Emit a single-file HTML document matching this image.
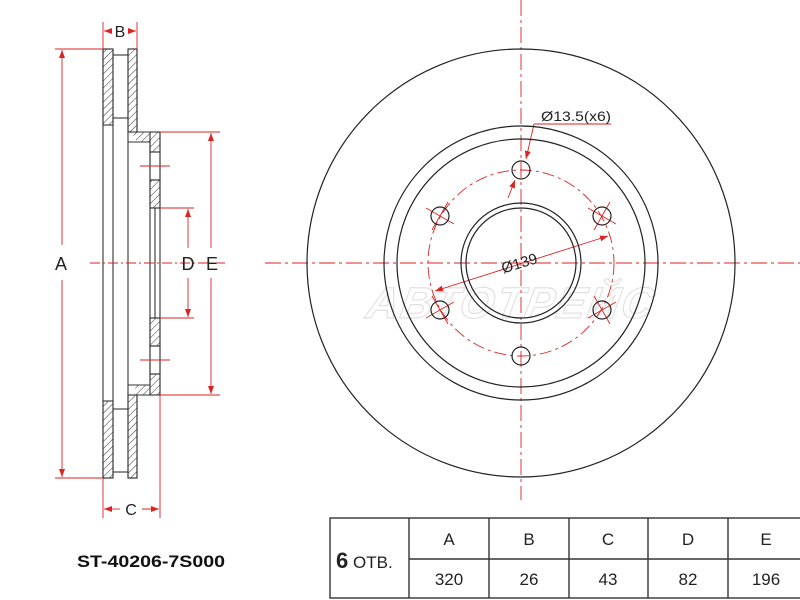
<!DOCTYPE html>
<html><head><meta charset="utf-8"><style>
html,body{margin:0;padding:0;background:#fff;width:800px;height:600px;overflow:hidden}
svg{display:block}
text{font-family:"Liberation Sans",Arial,sans-serif}
</style></head><body>
<svg width="800" height="600" viewBox="0 0 800 600" xmlns="http://www.w3.org/2000/svg">
<defs>
<pattern id="h" width="5" height="5" patternUnits="userSpaceOnUse" patternTransform="rotate(45)">
<line x1="0" y1="0" x2="0" y2="5" stroke="#333" stroke-width="1"/>
</pattern>
<marker id="a" markerWidth="8" markerHeight="6" refX="8" refY="3" orient="auto-start-reverse" markerUnits="userSpaceOnUse">
<path d="M0,0 L8,3 L0,6 z" fill="#d22"/>
</marker>
<g id="x">
<line x1="-14" y1="-8" x2="14" y2="8"/><line x1="-8" y1="14" x2="8" y2="-14"/>
</g>
</defs>

<!-- watermark -->
<text x="510" y="318" font-size="44" font-weight="bold" font-style="italic" fill="none" stroke="#e2e2e2" stroke-width="1.2" text-anchor="middle" transform="skewX(-10) translate(55,0)" letter-spacing="2">АВТОТРЕЙС</text>

<!-- SIDE VIEW -->
<g stroke="#333" stroke-width="1.1" fill="none">
<rect x="103" y="49" width="10" height="76" fill="url(#h)"/>
<rect x="103" y="401" width="10" height="77" fill="url(#h)"/>
<rect x="128" y="49" width="9" height="83" fill="url(#h)"/>
<rect x="128" y="395" width="9" height="83" fill="url(#h)"/>
<path d="M128,132 L150,132 L150,142 L137,142 L128,125 Z" fill="url(#h)" stroke="none"/>
<path d="M128,395 L150,395 L150,385 L137,385 L128,402 Z" fill="url(#h)" stroke="none"/>
<rect x="150" y="132" width="10" height="20" fill="url(#h)"/>
<rect x="150" y="180" width="10" height="28" fill="url(#h)"/>
<rect x="150" y="318" width="10" height="28" fill="url(#h)"/>
<rect x="150" y="374" width="10" height="21" fill="url(#h)"/>
<line x1="103" y1="49" x2="103" y2="478"/>
<line x1="113" y1="49" x2="113" y2="478"/>
<line x1="128" y1="49" x2="128" y2="478"/>
<line x1="103" y1="49" x2="113" y2="49"/>
<line x1="103" y1="478" x2="113" y2="478"/>
<line x1="128" y1="49" x2="137" y2="49"/>
<line x1="128" y1="478" x2="137" y2="478"/>
<line x1="113" y1="55" x2="128" y2="55"/>
<line x1="113" y1="118" x2="128" y2="118"/>
<line x1="113" y1="409" x2="128" y2="409"/>
<line x1="113" y1="472" x2="128" y2="472"/>
<path d="M137,49 L137,132 L160,132 L160,395 L137,395 L137,478"/>
<path d="M128,142 L150,142 L150,385 L128,385"/>
<line x1="150" y1="208" x2="160" y2="208"/>
<line x1="150" y1="318" x2="160" y2="318"/>
<line x1="155" y1="208" x2="155" y2="318"/>
<rect x="150" y="152" width="10" height="28"/>
<rect x="150" y="346" width="10" height="28"/>
</g>
<!-- side dims -->
<g stroke="#d22" stroke-width="0.9" fill="none">
<line x1="90" y1="263" x2="225" y2="263" stroke-dasharray="10,3,2,3"/>
<line x1="140" y1="166" x2="170" y2="166"/>
<line x1="140" y1="360" x2="170" y2="360"/>
<line x1="103" y1="22" x2="103" y2="49"/>
<line x1="137" y1="22" x2="137" y2="49"/>
<line x1="104" y1="31" x2="112" y2="31" marker-start="url(#a)"/>
<line x1="128" y1="31" x2="136" y2="31" marker-end="url(#a)"/>
<line x1="55" y1="49" x2="103" y2="49"/>
<line x1="55" y1="478" x2="103" y2="478"/>
<line x1="62" y1="50" x2="62" y2="245" marker-start="url(#a)"/>
<line x1="62" y1="280" x2="62" y2="477" marker-end="url(#a)"/>
<line x1="103" y1="478" x2="103" y2="518"/>
<line x1="160" y1="395" x2="160" y2="518"/>
<line x1="104" y1="509" x2="120" y2="509" marker-start="url(#a)"/>
<line x1="142" y1="509" x2="159" y2="509" marker-end="url(#a)"/>
<line x1="160" y1="132" x2="220" y2="132"/>
<line x1="160" y1="395" x2="220" y2="395"/>
<line x1="160" y1="208" x2="194" y2="208"/>
<line x1="160" y1="318" x2="194" y2="318"/>
<line x1="188" y1="209" x2="188" y2="248" marker-start="url(#a)"/>
<line x1="188" y1="278" x2="188" y2="317" marker-end="url(#a)"/>
<line x1="211" y1="133" x2="211" y2="248" marker-start="url(#a)"/>
<line x1="211" y1="278" x2="211" y2="394" marker-end="url(#a)"/>
</g>
<g font-size="18" fill="#222" text-anchor="middle">
<text x="120" y="37" font-size="16">B</text>
<text x="61" y="270">A</text>
<text x="131" y="515" font-size="16">C</text>
<text x="188" y="270">D</text>
<text x="212" y="270">E</text>
</g>

<!-- FRONT VIEW -->
<g stroke="#d22" stroke-width="0.9" fill="none">
<line x1="265" y1="263" x2="800" y2="263" stroke-dasharray="16,4,3,4"/>
<line x1="521" y1="0" x2="521" y2="500" stroke-dasharray="16,4,3,4"/>
<circle cx="521" cy="263" r="93" stroke-dasharray="12,4,3,4"/>
<line x1="435" y1="291" x2="608" y2="236" marker-start="url(#a)" marker-end="url(#a)"/>
<line x1="508" y1="198" x2="515" y2="180" marker-end="url(#a)"/>
<line x1="534" y1="124" x2="526" y2="159" marker-end="url(#a)"/>
<line x1="534" y1="124" x2="611" y2="124"/>
<use href="#x" transform="translate(440,216)"/>
<use href="#x" transform="translate(602,216)"/>
<use href="#x" transform="translate(440,310) scale(1,-1)"/>
<use href="#x" transform="translate(602,310) scale(1,-1)"/>
</g>
<g stroke="#222" stroke-width="1.2" fill="none">
<circle cx="521" cy="263" r="214"/>
<circle cx="521" cy="263" r="137"/>
<circle cx="521" cy="263" r="124"/>
<circle cx="521" cy="263" r="60"/>
<circle cx="521" cy="263" r="55"/>
<circle cx="521" cy="170" r="9"/>
<circle cx="521" cy="356" r="9"/>
<circle cx="440" cy="216" r="9"/>
<circle cx="602" cy="216" r="9"/>
<circle cx="440" cy="310" r="9"/>
<circle cx="602" cy="310" r="9"/>
</g>
<text x="541" y="121" font-size="14" fill="#222" textLength="70" lengthAdjust="spacingAndGlyphs">Ø13.5(x6)</text>
<text x="500" y="268" font-size="15" fill="#222" transform="rotate(-17 520 260)">Ø139</text>

<!-- TABLE -->
<g stroke="#333" stroke-width="1.4" fill="none">
<rect x="330" y="518" width="475" height="80"/>
<line x1="409" y1="559" x2="800" y2="559"/>
<line x1="409" y1="518" x2="409" y2="598"/>
<line x1="489" y1="518" x2="489" y2="598"/>
<line x1="569" y1="518" x2="569" y2="598"/>
<line x1="648" y1="518" x2="648" y2="598"/>
<line x1="728" y1="518" x2="728" y2="598"/>
</g>
<g font-size="17" fill="#222" text-anchor="middle">
<text x="449" y="545">A</text><text x="529" y="545">B</text><text x="608" y="545">C</text><text x="688" y="545">D</text><text x="766" y="545">E</text>
<text x="449" y="585">320</text><text x="529" y="585">26</text><text x="608" y="585">43</text><text x="688" y="585">82</text><text x="766" y="585">196</text>
</g>
<text x="336" y="568" font-size="22" font-weight="bold" fill="#222">6</text>
<text x="353" y="568" font-size="17" fill="#222">ОТВ.</text>
<text x="77" y="567" font-size="17" font-weight="bold" fill="#111" textLength="148" lengthAdjust="spacingAndGlyphs">ST-40206-7S000</text>
</svg>
</body></html>
